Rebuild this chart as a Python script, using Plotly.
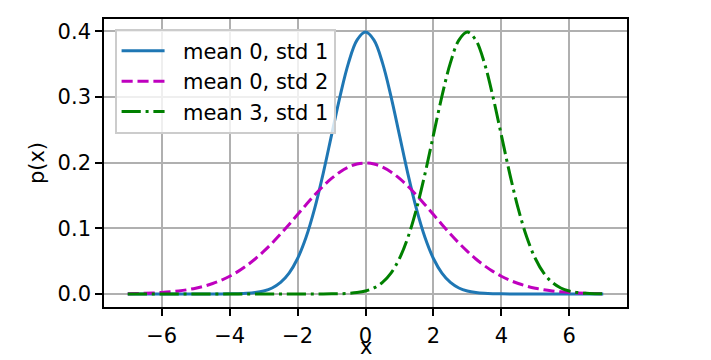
import plotly.graph_objects as go

# x grid (step 0.25)
x_vals = [-7.0, -6.75, -6.5, -6.25, -6.0, -5.75, -5.5, -5.25, -5.0, -4.75, -4.5, -4.25,
          -4.0, -3.75, -3.5, -3.25, -3.0, -2.75, -2.5, -2.25, -2.0, -1.75, -1.5, -1.25,
          -1.0, -0.75, -0.5, -0.25, 0.0, 0.25, 0.5, 0.75, 1.0, 1.25, 1.5, 1.75,
          2.0, 2.25, 2.5, 2.75, 3.0, 3.25, 3.5, 3.75, 4.0, 4.25, 4.5, 4.75,
          5.0, 5.25, 5.5, 5.75, 6.0, 6.25, 6.5, 6.75, 7.0]

# mean 0, std 1
p_m0_s1 = [0.0, 0.0, 0.0, 0.0, 0.0, 0.0, 0.0, 0.0, 0.0, 0.00001, 0.00002, 0.00005,
           0.00013, 0.00035, 0.00087, 0.00203, 0.00443, 0.00909, 0.01753, 0.03174, 0.05399, 0.08628, 0.12952, 0.18265,
           0.24197, 0.30114, 0.35207, 0.38667, 0.39894, 0.38667, 0.35207, 0.30114, 0.24197, 0.18265, 0.12952, 0.08628,
           0.05399, 0.03174, 0.01753, 0.00909, 0.00443, 0.00203, 0.00087, 0.00035, 0.00013, 0.00005, 0.00002, 0.00001,
           0.0, 0.0, 0.0, 0.0, 0.0, 0.0, 0.0, 0.0, 0.0]

# mean 0, std 2
p_m0_s2 = [0.00044, 0.00067, 0.00102, 0.00151, 0.00222, 0.00320, 0.00455, 0.00636, 0.00876, 0.01189, 0.01587, 0.02086,
           0.02700, 0.03439, 0.04314, 0.05327, 0.06476, 0.07751, 0.09133, 0.10594, 0.12099, 0.13603, 0.15057, 0.16408,
           0.17603, 0.18593, 0.19333, 0.19792, 0.19947, 0.19792, 0.19333, 0.18593, 0.17603, 0.16408, 0.15057, 0.13603,
           0.12099, 0.10594, 0.09133, 0.07751, 0.06476, 0.05327, 0.04314, 0.03439, 0.02700, 0.02086, 0.01587, 0.01189,
           0.00876, 0.00636, 0.00455, 0.00320, 0.00222, 0.00151, 0.00102, 0.00067, 0.00044]

# mean 3, std 1
p_m3_s1 = [0.0, 0.0, 0.0, 0.0, 0.0, 0.0, 0.0, 0.0, 0.0, 0.0, 0.0, 0.0,
           0.0, 0.0, 0.0, 0.0, 0.0, 0.0, 0.0, 0.0, 0.0, 0.00001, 0.00002, 0.00005,
           0.00013, 0.00035, 0.00087, 0.00203, 0.00443, 0.00909, 0.01753, 0.03174, 0.05399, 0.08628, 0.12952, 0.18265,
           0.24197, 0.30114, 0.35207, 0.38667, 0.39894, 0.38667, 0.35207, 0.30114, 0.24197, 0.18265, 0.12952, 0.08628,
           0.05399, 0.03174, 0.01753, 0.00909, 0.00443, 0.00203, 0.00087, 0.00035, 0.00013]

series_names = ["mean 0, std 1", "mean 0, std 2", "mean 3, std 1"]

x_tickvals = [-6, -4, -2, 0, 2, 4, 6]
x_ticktext = ["\u22126", "\u22124", "\u22122", "0", "2", "4", "6"]
y_tickvals = [0.0, 0.1, 0.2, 0.3, 0.4]
y_ticktext = ["0.0", "0.1", "0.2", "0.3", "0.4"]
x_label = "x"
y_label = "p(x)"

FONT = "DejaVu Sans"
FS = 21
PAD = "\u00a0\u00a0"  # gap between legend sample line and its label

fig = go.Figure()
fig.add_trace(go.Scatter(x=x_vals, y=p_m0_s1, mode="lines", name=PAD + series_names[0],
                         line=dict(color="#1f77b4", width=3, shape="spline")))
fig.add_trace(go.Scatter(x=x_vals, y=p_m0_s2, mode="lines", name=PAD + series_names[1],
                         line=dict(color="#bf00bf", width=3, shape="spline", dash="11.1px,4.8px")))
fig.add_trace(go.Scatter(x=x_vals, y=p_m3_s1, mode="lines", name=PAD + series_names[2],
                         line=dict(color="#008000", width=3, shape="spline", dash="19.2px,4.8px,3px,4.8px")))

axis_common = dict(
    showgrid=True, gridcolor="#b0b0b0", gridwidth=1.6,
    showline=True, linecolor="black", linewidth=1.6, mirror=True,
    ticks="outside", ticklen=7, tickwidth=1.6, tickcolor="black",
    zeroline=False, automargin=False,
    tickfont=dict(family=FONT, size=FS, color="black"),
)

# the page body adds an 8px offset, so the figure is 8px smaller and margins shifted
fig.update_layout(
    width=703, height=352,
    margin=dict(l=96, r=84, t=11, b=53),
    paper_bgcolor="white", plot_bgcolor="white",
    font=dict(family=FONT, size=FS, color="black"),
    xaxis=dict(range=[-7.7, 7.7], tickmode="array", tickvals=x_tickvals, ticktext=x_ticktext,
               ticklabelstandoff=2, **axis_common),
    yaxis=dict(range=[-0.0199, 0.4189], tickmode="array", tickvals=y_tickvals, ticktext=y_ticktext,
               title=dict(text=y_label, font=dict(family=FONT, size=FS), standoff=7), **axis_common),
    legend=dict(x=0.021, y=0.965, xanchor="left", yanchor="top",
                bgcolor="rgba(255,255,255,0.8)", bordercolor="#cccccc", borderwidth=1.6,
                font=dict(family=FONT, size=FS, color="black"), itemwidth=43),
    showlegend=True,
)

# x-axis label sits at the very bottom edge, as in the reference
fig.add_annotation(text=x_label, xref="paper", yref="paper", x=0.5, y=0,
                   xanchor="center", yanchor="bottom", yshift=-53, showarrow=False,
                   borderpad=0, font=dict(family=FONT, size=FS, color="black"))

fig.write_html("out.html")
